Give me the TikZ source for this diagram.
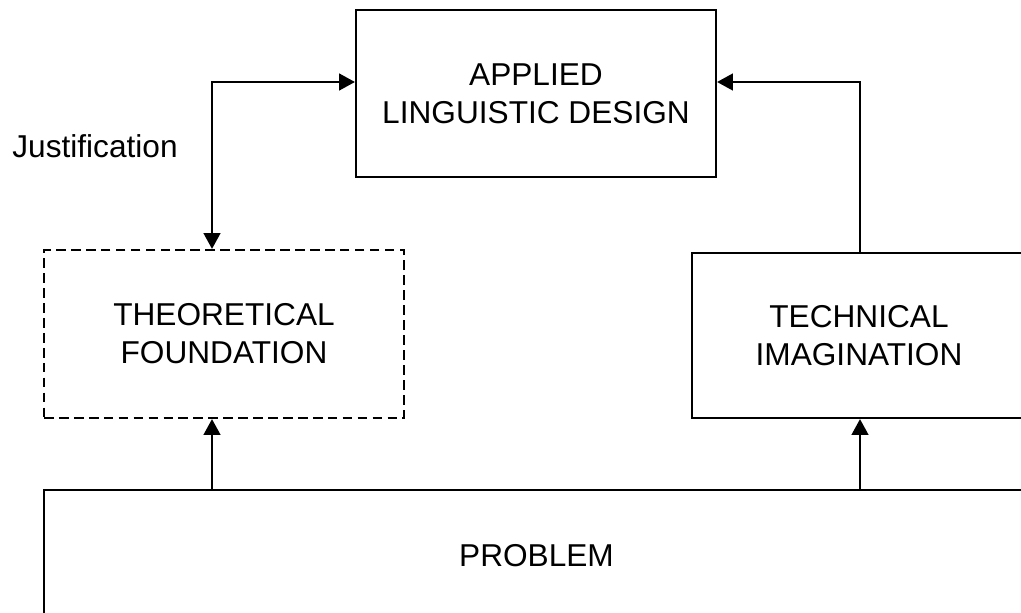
\documentclass[tikz,border=0pt]{standalone}
\usepackage{fontspec}
\setmainfont{Liberation Sans}
\usetikzlibrary{arrows.meta,calc}
\begin{document}
\begin{tikzpicture}[x=0.02cm,y=-0.02cm,
  every node/.style={font=\fontsize{18}{21.6}\selectfont, align=center, inner sep=0pt},
  box/.style={draw, line width=1.25pt},
  dbox/.style={draw, line width=1.25pt, dash pattern=on 5.5pt off 3pt},
  conn/.style={line width=1.25pt, -{Triangle[length=9pt,width=9.5pt]}},
  dconn/.style={line width=1.25pt, {Triangle[length=9pt,width=9.5pt]}-{Triangle[length=9pt,width=9.5pt]}}]
\useasboundingbox (0,0) rectangle (1021,612);
\clip (0,0) rectangle (1021,612);
\fill[white] (0,0) rectangle (1021,612);
\node[box, minimum width=7.2cm, minimum height=3.34cm] (design) at (536,93.5) {APPLIED\\LINGUISTIC DESIGN};
\node[dbox, minimum width=7.2cm, minimum height=3.36cm] (theory) at (224,334) {THEORETICAL\\FOUNDATION};
\node[box, minimum width=6.68cm, minimum height=3.3cm] (tech) at (859,335.5) {TECHNICAL\\IMAGINATION};
\node[box, minimum width=19.7cm, minimum height=2.62cm] (problem) at (536.5,555.5) {PROBLEM};
\node (just) at (95,146) {Justification};
\coordinate (lx) at ($(theory.north)+(-12,0)$);
\coordinate (rx) at ($(tech.north)+(1,0)$);
\draw[dconn] (lx) |- ($(design.west)+(0,-11.5)$);
\draw[conn] (rx) |- ($(design.east)+(0,-11.5)$);
\draw[conn] (problem.north -| lx) -- (theory.south -| lx);
\draw[conn] (problem.north -| rx) -- (tech.south -| rx);
\end{tikzpicture}
\end{document}
